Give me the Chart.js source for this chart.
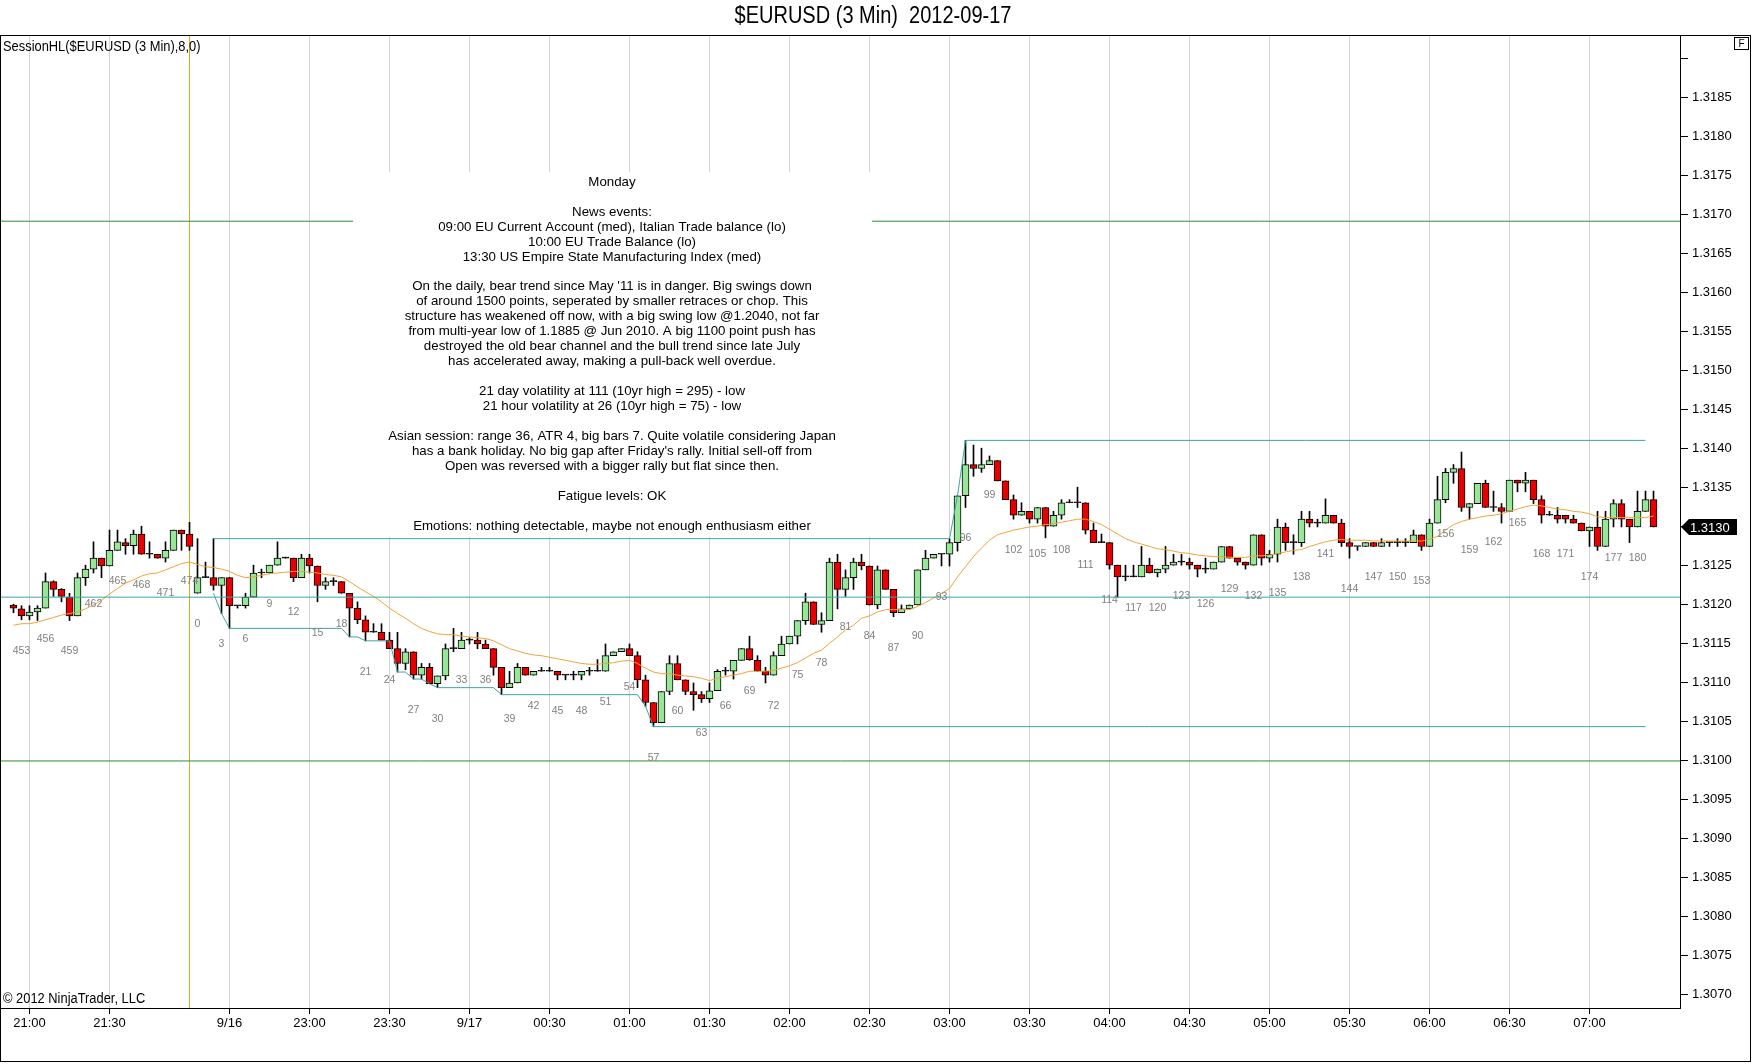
<!DOCTYPE html>
<html><head><meta charset="utf-8">
<script src="https://cdn.jsdelivr.net/npm/chart.js@4.4.1/dist/chart.umd.min.js"></script>
<style>html,body{margin:0;padding:0;background:#fff;overflow:hidden}canvas{display:block}</style>
</head><body>
<canvas id="c" width="1752" height="1064" style="width:1752px;height:1064px"></canvas>
<script>
// ---------- DATA ----------
const barIds = [452,453,454,455,456,457,458,459,460,461,462,463,464,465,466,467,468,469,470,471,472,473,474,
0,1,2,3,4,5,6,7,8,9,10,11,12,13,14,15,16,17,18,19,20,21,22,23,24,25,26,27,28,29,30,31,
32,33,34,35,36,37,38,39,40,41,42,43,44,45,46,47,48,49,50,51,52,53,54,55,56,57,58,59,60,61,62,
63,64,65,66,67,68,69,70,71,72,73,74,75,76,77,78,79,80,81,82,83,84,85,86,87,88,89,90,91,92,93,94,
95,96,97,98,99,100,101,102,103,104,105,106,107,108,109,110,111,112,113,114,115,116,117,118,119,120,121,122,123,124,125,
126,127,128,129,130,131,132,133,134,135,136,137,138,139,140,141,142,143,144,145,146,147,148,149,150,151,152,153,154,155,156,
157,158,159,160,161,162,163,164,165,166,167,168,169,170,171,172,173,174,175,176,177,178,179,180,181,182];

const opens = [1.31199,1.31194,1.31185,1.31190,1.31195,1.31229,1.31219,1.31209,1.31185,1.31234,1.31245,1.31259,1.31249,1.31269,1.31279,1.31275,1.31290,1.31264,1.31264,1.31259,1.31269,1.31295,1.31290,
1.31214,1.31234,1.31234,1.31224,1.31234,1.31198,1.31198,1.31209,1.31240,1.31240,1.31250,1.31259,1.31259,1.31234,1.31259,1.31249,1.31224,1.31229,1.31229,1.31214,1.31195,1.31180,1.31164,1.31164,1.31154,1.31143,1.31124,1.31139,1.31109,1.31119,1.31098,1.31108,
1.31143,1.31143,1.31154,1.31154,1.31149,1.31143,1.31119,1.31093,1.31099,1.31119,1.31109,1.31114,1.31114,1.31114,1.31109,1.31109,1.31109,1.31114,1.31114,1.31114,1.31134,1.31139,1.31143,1.31134,1.31103,1.31074,1.31048,1.31088,1.31124,1.31103,1.31088,
1.31084,1.31079,1.31089,1.31114,1.31114,1.31128,1.31143,1.31128,1.31114,1.31109,1.31134,1.31149,1.31159,1.31179,1.31203,1.31174,1.31179,1.31254,1.31219,1.31234,1.31254,1.31249,1.31199,1.31244,1.31219,1.31189,1.31194,1.31199,1.31244,1.31259,1.31264,1.31264,
1.31279,1.31339,1.31379,1.31374,1.31379,1.31384,1.31358,1.31334,1.31314,1.31319,1.31309,1.31324,1.31300,1.31314,1.31330,1.31330,1.31330,1.31295,1.31279,1.31279,1.31250,1.31235,1.31235,1.31235,1.31250,1.31240,1.31245,1.31250,1.31254,1.31254,1.31250,
1.31245,1.31245,1.31254,1.31274,1.31259,1.31254,1.31250,1.31289,1.31259,1.31264,1.31299,1.31279,1.31279,1.31309,1.31304,1.31304,1.31314,1.31304,1.31279,1.31274,1.31274,1.31279,1.31274,1.31279,1.31279,1.31279,1.31279,1.31289,1.31274,1.31304,1.31334,
1.31369,1.31374,1.31324,1.31329,1.31355,1.31324,1.31324,1.31319,1.31359,1.31355,1.31359,1.31334,1.31314,1.31314,1.31314,1.31309,1.31304,1.31294,1.31299,1.31274,1.31309,1.31329,1.31309,1.31299,1.31319,1.31334];

const highs = [1.31200,1.31198,1.31198,1.31198,1.31240,1.31230,1.31220,1.31214,1.31240,1.31250,1.31280,1.31259,1.31295,1.31295,1.31284,1.31295,1.31300,1.31280,1.31264,1.31280,1.31295,1.31295,1.31305,
1.31284,1.31254,1.31284,1.31234,1.31234,1.31198,1.31214,1.31250,1.31245,1.31250,1.31280,1.31259,1.31259,1.31264,1.31264,1.31249,1.31234,1.31234,1.31229,1.31214,1.31203,1.31185,1.31175,1.31175,1.31164,1.31164,1.31143,1.31139,1.31124,1.31124,1.31108,1.31149,
1.31169,1.31164,1.31157,1.31164,1.31154,1.31143,1.31119,1.31114,1.31124,1.31119,1.31114,1.31119,1.31119,1.31114,1.31109,1.31114,1.31114,1.31119,1.31129,1.31149,1.31139,1.31143,1.31149,1.31139,1.31109,1.31074,1.31088,1.31134,1.31134,1.31103,1.31099,
1.31088,1.31099,1.31116,1.31119,1.31128,1.31143,1.31159,1.31134,1.31119,1.31139,1.31159,1.31159,1.31179,1.31214,1.31203,1.31189,1.31259,1.31264,1.31244,1.31259,1.31264,1.31249,1.31249,1.31244,1.31219,1.31199,1.31199,1.31244,1.31269,1.31264,1.31264,1.31284,
1.31339,1.31410,1.31404,1.31400,1.31390,1.31384,1.31358,1.31340,1.31330,1.31319,1.31324,1.31324,1.31319,1.31334,1.31334,1.31350,1.31330,1.31304,1.31290,1.31279,1.31250,1.31250,1.31250,1.31274,1.31259,1.31245,1.31274,1.31264,1.31264,1.31259,1.31250,
1.31259,1.31254,1.31274,1.31274,1.31259,1.31254,1.31289,1.31289,1.31269,1.31309,1.31304,1.31289,1.31319,1.31319,1.31309,1.31335,1.31314,1.31309,1.31284,1.31274,1.31279,1.31279,1.31284,1.31279,1.31284,1.31284,1.31295,1.31289,1.31309,1.31364,1.31374,
1.31379,1.31395,1.31329,1.31355,1.31359,1.31345,1.31329,1.31359,1.31359,1.31369,1.31359,1.31339,1.31319,1.31324,1.31314,1.31314,1.31304,1.31299,1.31319,1.31319,1.31334,1.31334,1.31309,1.31345,1.31345,1.31345];

const lows = [1.31189,1.31180,1.31180,1.31179,1.31195,1.31210,1.31203,1.31179,1.31185,1.31224,1.31240,1.31234,1.31249,1.31269,1.31264,1.31264,1.31264,1.31259,1.31259,1.31254,1.31269,1.31269,1.31269,
1.31214,1.31234,1.31218,1.31188,1.31169,1.31195,1.31195,1.31209,1.31234,1.31240,1.31250,1.31259,1.31229,1.31234,1.31240,1.31203,1.31219,1.31224,1.31214,1.31158,1.31175,1.31153,1.31164,1.31154,1.31143,1.31113,1.31116,1.31104,1.31104,1.31098,1.31093,1.31103,
1.31139,1.31143,1.31149,1.31143,1.31143,1.31109,1.31084,1.31093,1.31099,1.31109,1.31109,1.31114,1.31114,1.31103,1.31103,1.31103,1.31103,1.31109,1.31114,1.31114,1.31134,1.31139,1.31134,1.31093,1.31069,1.31043,1.31048,1.31084,1.31103,1.31084,1.31064,
1.31074,1.31074,1.31089,1.31109,1.31104,1.31128,1.31128,1.31114,1.31099,1.31109,1.31134,1.31149,1.31149,1.31174,1.31174,1.31164,1.31179,1.31194,1.31210,1.31219,1.31244,1.31199,1.31194,1.31219,1.31184,1.31189,1.31194,1.31199,1.31244,1.31259,1.31249,1.31249,
1.31268,1.31324,1.31364,1.31369,1.31379,1.31358,1.31334,1.31309,1.31314,1.31304,1.31304,1.31285,1.31300,1.31309,1.31330,1.31324,1.31290,1.31279,1.31279,1.31245,1.31209,1.31230,1.31235,1.31235,1.31240,1.31235,1.31240,1.31250,1.31250,1.31245,1.31235,
1.31240,1.31245,1.31254,1.31259,1.31250,1.31245,1.31250,1.31250,1.31254,1.31254,1.31269,1.31264,1.31274,1.31299,1.31299,1.31304,1.31304,1.31274,1.31259,1.31269,1.31274,1.31274,1.31274,1.31274,1.31274,1.31274,1.31279,1.31269,1.31274,1.31304,1.31330,
1.31355,1.31319,1.31309,1.31329,1.31324,1.31319,1.31304,1.31319,1.31344,1.31344,1.31329,1.31304,1.31314,1.31304,1.31304,1.31304,1.31294,1.31274,1.31269,1.31274,1.31299,1.31299,1.31279,1.31299,1.31319,1.31299];

const closes = [1.31195,1.31185,1.31190,1.31195,1.31229,1.31219,1.31210,1.31185,1.31234,1.31245,1.31259,1.31249,1.31269,1.31280,1.31275,1.31290,1.31264,1.31264,1.31259,1.31269,1.31295,1.31290,1.31274,
1.31234,1.31234,1.31224,1.31234,1.31198,1.31198,1.31209,1.31240,1.31240,1.31250,1.31259,1.31259,1.31234,1.31259,1.31249,1.31224,1.31229,1.31229,1.31214,1.31195,1.31180,1.31164,1.31164,1.31154,1.31143,1.31124,1.31139,1.31109,1.31119,1.31098,1.31108,1.31143,
1.31143,1.31154,1.31154,1.31149,1.31143,1.31119,1.31093,1.31099,1.31119,1.31109,1.31114,1.31114,1.31114,1.31109,1.31109,1.31109,1.31114,1.31114,1.31114,1.31134,1.31139,1.31143,1.31134,1.31103,1.31074,1.31048,1.31088,1.31124,1.31103,1.31088,1.31084,
1.31079,1.31089,1.31114,1.31114,1.31128,1.31143,1.31129,1.31114,1.31109,1.31134,1.31149,1.31159,1.31179,1.31203,1.31174,1.31179,1.31254,1.31219,1.31234,1.31254,1.31249,1.31199,1.31244,1.31219,1.31189,1.31194,1.31199,1.31244,1.31259,1.31264,1.31264,1.31279,
1.31339,1.31379,1.31374,1.31379,1.31384,1.31358,1.31334,1.31314,1.31319,1.31309,1.31324,1.31300,1.31314,1.31330,1.31330,1.31330,1.31295,1.31279,1.31279,1.31250,1.31235,1.31235,1.31235,1.31250,1.31240,1.31245,1.31250,1.31254,1.31254,1.31250,1.31245,
1.31245,1.31254,1.31274,1.31259,1.31254,1.31250,1.31289,1.31259,1.31264,1.31299,1.31279,1.31279,1.31309,1.31304,1.31304,1.31314,1.31304,1.31279,1.31274,1.31274,1.31279,1.31274,1.31279,1.31279,1.31279,1.31279,1.31289,1.31274,1.31304,1.31334,1.31369,
1.31374,1.31324,1.31329,1.31355,1.31324,1.31324,1.31319,1.31359,1.31355,1.31359,1.31334,1.31314,1.31314,1.31309,1.31309,1.31304,1.31294,1.31299,1.31274,1.31309,1.31329,1.31309,1.31299,1.31319,1.31334,1.31299];

// orange moving-average line, read per bar
const avgLine = [1.31173,1.31175,1.31175,1.31177,1.31180,1.31183,1.31186,1.31188,1.31190,1.31194,1.31199,1.31205,1.31213,1.31220,1.31227,1.31231,1.31236,1.31239,1.31240,1.31244,1.31248,1.31252,1.31254,
1.31251,1.31248,1.31247,1.31245,1.31242,1.31237,1.31234,1.31235,1.31237,1.31239,1.31240,1.31241,1.31242,1.31242,1.31241,1.31240,1.31238,1.31237,1.31235,1.31229,1.31222,1.31216,1.31210,1.31203,1.31195,1.31188,1.31182,1.31175,1.31169,1.31165,1.31162,1.31161,
1.31161,1.31159,1.31158,1.31157,1.31156,1.31153,1.31148,1.31143,1.31140,1.31137,1.31135,1.31134,1.31132,1.31130,1.31128,1.31126,1.31124,1.31123,1.31123,1.31124,1.31125,1.31127,1.31128,1.31124,1.31118,1.31113,1.31111,1.31111,1.31109,1.31108,1.31107,
1.31105,1.31102,1.31105,1.31107,1.31109,1.31111,1.31114,1.31114,1.31114,1.31115,1.31118,1.31121,1.31125,1.31131,1.31137,1.31141,1.31150,1.31158,1.31167,1.31173,1.31182,1.31185,1.31190,1.31193,1.31193,1.31193,1.31193,1.31197,1.31202,1.31208,1.31214,1.31220,
1.31235,1.31248,1.31261,1.31272,1.31282,1.31289,1.31292,1.31295,1.31297,1.31299,1.31300,1.31302,1.31303,1.31305,1.31307,1.31309,1.31309,1.31306,1.31302,1.31296,1.31290,1.31284,1.31280,1.31277,1.31274,1.31271,1.31270,1.31268,1.31266,1.31265,1.31263,
1.31262,1.31261,1.31261,1.31260,1.31260,1.31260,1.31262,1.31262,1.31263,1.31265,1.31267,1.31269,1.31270,1.31274,1.31277,1.31280,1.31282,1.31283,1.31282,1.31282,1.31282,1.31281,1.31281,1.31281,1.31281,1.31281,1.31281,1.31281,1.31283,1.31287,1.31295,
1.31302,1.31306,1.31309,1.31311,1.31313,1.31314,1.31316,1.31319,1.31322,1.31325,1.31327,1.31326,1.31324,1.31322,1.31321,1.31319,1.31318,1.31316,1.31312,1.31311,1.31311,1.31311,1.31311,1.31311,1.31311,1.31313];

// SessionHL step lines: [barId, price]
const sessionHighPts = [[2,1.31284],[94,1.31284],[95,1.31339],[96,1.31410],[181,1.31410]];
const sessionLowPts = [[2,1.31214],[3,1.31188],[4,1.31169],[18,1.31169],[19,1.31158],[20,1.31158],[21,1.31153],[24,1.31153],[25,1.31113],[26,1.31113],[27,1.31104],[28,1.31104],[29,1.31098],[30,1.31093],[37,1.31093],[38,1.31084],[55,1.31084],[56,1.31069],[57,1.31043],[181,1.31043]];
const cyanLevel = 1.31209;
const greenLevels = [1.31691, 1.30999];
const sessionBreakBar = 474;

const timeTickBars = [454,464,4,14,24,34,44,54,64,74,84,94,104,114,124,134,144,154,164,174];
const timeTickLabels = ["21:00","21:30","9/16","23:00","23:30","9/17","00:30","01:00","01:30","02:00","02:30","03:00","03:30","04:00","04:30","05:00","05:30","06:00","06:30","07:00"];
const yTickValues = [1.3070,1.3075,1.3080,1.3085,1.3090,1.3095,1.3100,1.3105,1.3110,1.3115,1.3120,1.3125,1.3130,1.3135,1.3140,1.3145,1.3150,1.3155,1.3160,1.3165,1.3170,1.3175,1.3180,1.3185,1.3190];
const yTickLabels = ["1.3070","1.3075","1.3080","1.3085","1.3090","1.3095","1.3100","1.3105","1.3110","1.3115","1.3120","1.3125","1.3130","1.3135","1.3140","1.3145","1.3150","1.3155","1.3160","1.3165","1.3170","1.3175","1.3180","1.3185",""];

const titleText = "$EURUSD (3 Min)  2012-09-17";
const indicatorText = "SessionHL($EURUSD (3 Min),8,0)";
const copyrightText = "\u00A9 2012 NinjaTrader, LLC";
const noteLines = ["Monday","","News events:","09:00 EU Current Account (med), Italian Trade balance (lo)","10:00 EU Trade Balance (lo)","13:30 US Empire State Manufacturing Index (med)","",
"On the daily, bear trend since May '11 is in danger. Big swings down","of around 1500 points, seperated by smaller retraces or chop. This","structure has weakened off now, with a big swing low @1.2040, not far","from multi-year low of 1.1885 @ Jun 2010. A big 1100 point push has","destroyed the old bear channel and the bull trend since late July","has accelerated away, making a pull-back well overdue.","",
"21 day volatility at 111 (10yr high = 295) - low","21 hour volatility at 26 (10yr high = 75) - low","",
"Asian session: range 36, ATR 4, big bars 7. Quite volatile considering Japan","has a bank holiday. No big gap after Friday's rally. Initial sell-off from","Open was reversed with a bigger rally but flat since then.","",
"Fatigue levels: OK","","Emotions: nothing detectable, maybe not enough enthusiasm either"];

// ---------- STYLE / LAYOUT ----------
const X_MIN = -1.5625, X_MAX = 208.3125;
const Y_MIN = 1.306823, Y_MAX = 1.319297;
const CYAN = '#3fa3a6', GREEN = '#2f8f2f', ORANGE = '#f2a33a', BREAK = '#eaa020';
const UP = '#98e698', DOWN = '#e80000';
const FONT = '"Liberation Sans", Arial, sans-serif';

const idxOf = id => barIds.indexOf(id);
const bodyColors = opens.map((o,i)=> closes[i] > o ? UP : (closes[i] < o ? DOWN : '#000'));

const deco = {
  id: 'deco',
  beforeDraw(chart) {
    const c = chart.ctx; c.save(); c.fillStyle = '#fff'; c.fillRect(0,0,chart.width,chart.height); c.restore();
  },
  afterDatasetsDraw(chart) {
    const c = chart.ctx, xs = chart.scales.x, ys = chart.scales.y;
    c.save();
    c.font = '10.5px ' + FONT; c.fillStyle = '#808080'; c.textAlign = 'center'; c.textBaseline = 'middle';
    barIds.forEach((id,i)=>{ if (id % 3 === 0) c.fillText(String(id), xs.getPixelForValue(i), ys.getPixelForValue(lows[i]) + 31); });
    // commentary box
    c.fillStyle = '#fff'; c.fillRect(353, 172, 519, 365);
    c.fillStyle = '#000'; c.font = '13.3px ' + FONT;
    noteLines.forEach((t,j)=>{ if (t) c.fillText(t, 612, 182 + j*14.97); });
    c.restore();
  },
  afterDraw(chart) {
    const c = chart.ctx, ys = chart.scales.y;
    c.save();
    c.strokeStyle = '#000'; c.lineWidth = 1;
    c.strokeRect(0.5, 35.5, 1750, 1026);
    c.fillStyle = '#000'; c.textBaseline = 'middle';
    // title (condensed look)
    c.save(); c.translate(873, 16); c.scale(0.87, 1.08);
    c.textAlign = 'center'; c.font = '23px ' + FONT; c.fillText(titleText, 0, 0);
    c.restore();
    // indicator label + copyright (slightly condensed)
    c.save(); c.translate(3, 47); c.scale(0.92, 1.05);
    c.textAlign = 'left'; c.font = '14px ' + FONT; c.fillText(indicatorText, 0, 0);
    c.restore();
    c.save(); c.translate(3, 999); c.scale(0.92, 1.05);
    c.textAlign = 'left'; c.font = '14px ' + FONT; c.fillText(copyrightText, 0, 0);
    c.restore();
    // F box
    c.strokeRect(1734.5, 37.5, 14, 12);
    c.textAlign = 'center'; c.font = '10px ' + FONT; c.fillText('F', 1741.5, 44);
    // last price marker
    const last = closes.length - 1, yy = Math.round(ys.getPixelForValue(closes[last]));
    c.fillStyle = '#000'; c.beginPath();
    c.moveTo(1681, yy); c.lineTo(1689, yy - 8); c.lineTo(1737, yy - 8); c.lineTo(1737, yy + 8); c.lineTo(1689, yy + 8); c.closePath(); c.fill();
    c.fillStyle = '#fff'; c.textAlign = 'left'; c.font = '13px ' + FONT; c.fillText(closes[last].toFixed(4), 1690, yy + 1);
    c.restore();
  }
};

const lineDs = (label, data, color, order) => ({type:'line', label, data, borderColor:color, borderWidth:1, pointRadius:0, fill:false, tension:0, order: order});

new Chart(document.getElementById('c').getContext('2d'), {
  type: 'bar',
  data: { datasets: [
    lineDs('green1', [{x:X_MIN,y:greenLevels[0]},{x:X_MAX,y:greenLevels[0]}], GREEN, 5),
    lineDs('green2', [{x:X_MIN,y:greenLevels[1]},{x:X_MAX,y:greenLevels[1]}], GREEN, 5),
    lineDs('cyanLevel', [{x:X_MIN,y:cyanLevel},{x:X_MAX,y:cyanLevel}], CYAN, 0),
    lineDs('break', [{x:idxOf(sessionBreakBar),y:Y_MIN},{x:idxOf(sessionBreakBar),y:Y_MAX}], BREAK, 5),
    lineDs('sessHigh', sessionHighPts.map(p=>({x:idxOf(p[0]), y:p[1]})), CYAN, 0),
    lineDs('sessLow', sessionLowPts.map(p=>({x:idxOf(p[0]), y:p[1]})), CYAN, 0),
    lineDs('avg', avgLine.map((v,i)=>({x:i, y:v})), ORANGE, 0),
    {type:'bar', label:'wick', data: highs.map((h,i)=>({x:i, y:[lows[i], h]})), backgroundColor:'#000', barThickness:1, grouped:false, minBarLength:1, order:3},
    {type:'bar', label:'body', data: opens.map((o,i)=>({x:i, y:[Math.min(o,closes[i]), Math.max(o,closes[i])]})), backgroundColor: bodyColors, borderColor:'#000', borderWidth:1, borderSkipped:false, barThickness:7, grouped:false, minBarLength:1, order:2}
  ]},
  options: {
    responsive: false, animation: false, devicePixelRatio: 1,
    layout: { padding: { top: 35, left: 1, right: 0, bottom: 0 } },
    plugins: { legend: {display:false}, tooltip: {enabled:false}, title: {display:false} },
    scales: {
      x: {
        type: 'linear', min: X_MIN, max: X_MAX, offset: false,
        afterFit(s) { s.height = 56; },
        afterBuildTicks(s) { s.ticks = timeTickBars.map(id=>({value: idxOf(id)})); },
        ticks: { autoSkip: false, maxRotation: 0, color: '#000', padding: 2, font: { family: FONT, size: 13 },
          callback(v) { const k = timeTickBars.findIndex(id=>idxOf(id) === v); return k >= 0 ? timeTickLabels[k] : ''; } },
        grid: { offset: false, color: '#d4d4d4', tickColor: '#000', tickLength: 6, lineWidth: 1 },
        border: { display: true, color: '#000', width: 1 }
      },
      y: {
        type: 'linear', position: 'right', min: Y_MIN, max: Y_MAX,
        afterFit(s) { s.width = 72; },
        afterBuildTicks(s) { s.ticks = yTickValues.map(v=>({value:v})); },
        ticks: { color: '#000', padding: 4, font: { family: FONT, size: 13 },
          callback(v) { const k = yTickValues.findIndex(t=>Math.abs(t - v) < 1e-7); return k >= 0 ? yTickLabels[k] : ''; } },
        grid: { drawOnChartArea: false, tickColor: '#000', tickLength: 8 },
        border: { display: true, color: '#000', width: 1 }
      }
    }
  },
  plugins: [deco]
});
</script>
</body></html>
